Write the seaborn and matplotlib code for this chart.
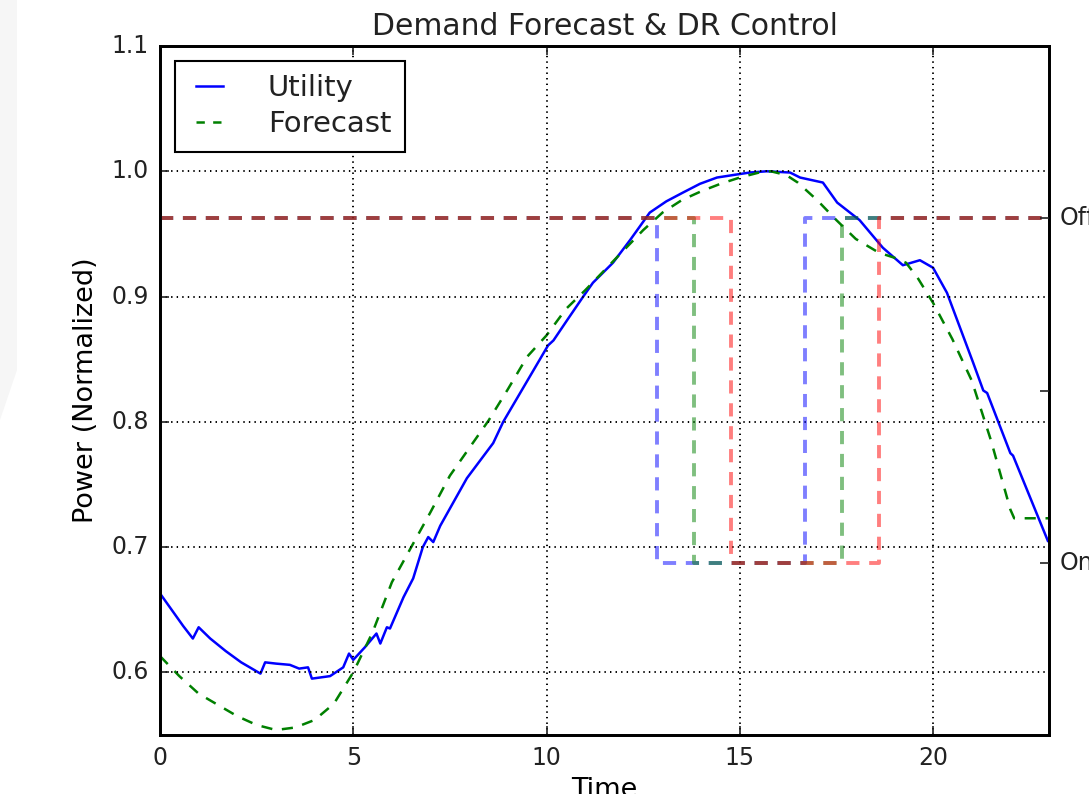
import matplotlib
matplotlib.use("Agg")
import matplotlib.pyplot as plt
import seaborn as sns
from matplotlib.patches import Polygon

# ---------------- data ----------------
utility_time = [0.0, 0.3, 0.6, 0.85, 1.0, 1.3, 1.7, 2.1, 2.6, 2.72, 3.0, 3.36, 3.6, 3.83,
                3.93, 4.4, 4.74, 4.89, 5.0, 5.3, 5.6, 5.7, 5.87, 5.95, 6.3, 6.55, 6.8,
                6.94, 7.07, 7.25, 7.94, 8.62, 8.88, 9.66, 10.04, 10.18, 10.53, 10.95,
                11.2, 11.72, 12.16, 12.67, 13.1, 13.53, 13.97, 14.41, 14.83, 15.26, 15.7,
                16.3, 16.56, 17.15, 17.52, 18.1, 18.7, 19.22, 19.66, 20.0, 20.36, 21.04,
                21.3, 21.4, 22.0, 22.07, 22.97]
utility = [0.663, 0.650, 0.637, 0.627, 0.636, 0.627, 0.617, 0.608, 0.599, 0.608, 0.607,
           0.606, 0.603, 0.604, 0.595, 0.597, 0.604, 0.615, 0.610, 0.620, 0.631, 0.623,
           0.636, 0.635, 0.660, 0.675, 0.700, 0.708, 0.704, 0.717, 0.755, 0.783, 0.800,
           0.841, 0.861, 0.865, 0.881, 0.900, 0.911, 0.927, 0.945, 0.967, 0.976, 0.983,
           0.990, 0.995, 0.997, 0.999, 1.000, 0.999, 0.995, 0.991, 0.975, 0.961, 0.939,
           0.925, 0.929, 0.923, 0.903, 0.847, 0.825, 0.823, 0.775, 0.773, 0.705]

forecast_time = [0.0, 0.5, 1.0, 1.5, 2.0, 2.5, 3.0, 3.5, 4.0, 4.5, 5.0, 5.5, 6.0, 6.5, 7.0,
                 7.5, 8.0, 8.5, 9.0, 9.5, 10.0, 10.5, 11.0, 11.5, 12.0, 12.5, 13.0, 13.5,
                 14.0, 14.5, 15.0, 15.5, 15.8, 16.2, 16.5, 17.0, 17.5, 18.0, 18.6, 19.0,
                 19.3, 19.6, 20.0, 20.5, 21.0, 21.5, 22.0, 22.1, 23.0]
forecast = [0.613, 0.597, 0.583, 0.574, 0.565, 0.558, 0.554, 0.556, 0.562, 0.575, 0.600,
            0.632, 0.672, 0.700, 0.728, 0.757, 0.779, 0.801, 0.826, 0.852, 0.869, 0.890,
            0.905, 0.921, 0.937, 0.953, 0.967, 0.977, 0.984, 0.990, 0.995, 0.999, 1.000,
            0.997, 0.991, 0.977, 0.961, 0.946, 0.935, 0.931, 0.927, 0.915, 0.895, 0.866,
            0.833, 0.785, 0.730, 0.723, 0.723]

# DR control signals (1 = Off, 0 = On), step-post
ctrl1_time = [0.0, 12.85, 16.69, 23.0]
ctrl1_state = [1, 0, 1, 1]
ctrl2_time = [0.0, 13.82, 17.64, 23.0]
ctrl2_state = [1, 0, 1, 1]
ctrl3_time = [0.0, 14.77, 18.61, 23.0]
ctrl3_state = [1, 0, 1, 1]

x_ticks = [0, 5, 10, 15, 20]
y_ticks = [0.6, 0.7, 0.8, 0.9, 1.0, 1.1]
ctrl_ticks = [0, 0.5, 1]
ctrl_labels = ["On", "", "Off"]

# ---------------- style ----------------
plt.style.use("classic")
plt.rcParams.update({
    "font.family": ["DejaVu Sans"],
    "text.color": "#222222",
    "xtick.color": "#222222",
    "ytick.color": "#222222",
    "figure.facecolor": "white",
    "savefig.facecolor": "white",
    "axes.linewidth": 2.0,
    "xtick.major.size": 6.5,
    "ytick.major.size": 6.5,
    "xtick.major.width": 1.2,
    "ytick.major.width": 1.2,
    "xtick.labelsize": 17,
    "ytick.labelsize": 17,
    "xtick.major.pad": 8,
    "ytick.major.pad": 8,
})

fig = plt.figure(figsize=(10.89, 7.94), dpi=100)
fig.patches.append(Polygon([[0, 1], [17 / 1089, 1], [17 / 1089, 1 - 370 / 794], [0, 1 - 420 / 794]],
                           closed=True, transform=fig.transFigure, facecolor="#f6f6f6",
                           edgecolor="none", zorder=-10))
ax = fig.add_axes([160 / 1089, 1 - 735 / 794, 889 / 1089, 689 / 794])

sns.lineplot(x=utility_time, y=utility, ax=ax, color="b", linewidth=1.8,
             label="Utility", sort=False)
sns.lineplot(x=forecast_time, y=forecast, ax=ax, color="g", linewidth=1.8,
             linestyle="--", label="Forecast", sort=False)
ax.lines[-1].set_dashes([8, 7])

ax.set_xlim(0, 23)
ax.set_ylim(0.55, 1.1)
ax.set_xticks(x_ticks)
ax.set_yticks(y_ticks)
ax.set_yticklabels([f"{v:.1f}" for v in y_ticks])
ax.grid(True, color="k", linestyle=":", linewidth=1.4)
ax.tick_params(direction="in", top=True, right=False)
ax.set_title("Demand Forecast & DR Control", fontsize=21.5, pad=8)
ax.set_xlabel("Time", fontsize=19.5, labelpad=5)
ax.set_ylabel("Power (Normalized)", fontsize=19.5, labelpad=9)

leg = ax.legend(loc="upper left", fontsize=21, frameon=True, fancybox=False,
                handlelength=1.5, handletextpad=1.25, labelspacing=0.3,
                borderaxespad=0.5, borderpad=0.45)
leg.get_frame().set_edgecolor("black")
leg.get_frame().set_linewidth(1.5)
for h in leg.get_lines():
    if h.get_linestyle() == "--":
        h.set_dashes([6, 6])

ax2 = ax.twinx()
for t, s, c in [(ctrl1_time, ctrl1_state, "b"),
                (ctrl2_time, ctrl2_state, "g"),
                (ctrl3_time, ctrl3_state, "r")]:
    sns.lineplot(x=t, y=s, ax=ax2, color=c, linewidth=2.8, alpha=0.5,
                 drawstyle="steps-post", sort=False, legend=False)
    ax2.lines[-1].set_dashes([9.5, 7])
ax2.set_ylim(-0.5, 1.5)
ax2.set_xlim(0, 23)
ax2.set_yticks(ctrl_ticks)
ax2.set_yticklabels(ctrl_labels)
ax2.set_ylabel("")
ax2.grid(False)
ax2.tick_params(direction="in", labelsize=17)

fig.savefig("out.png", dpi=100)
